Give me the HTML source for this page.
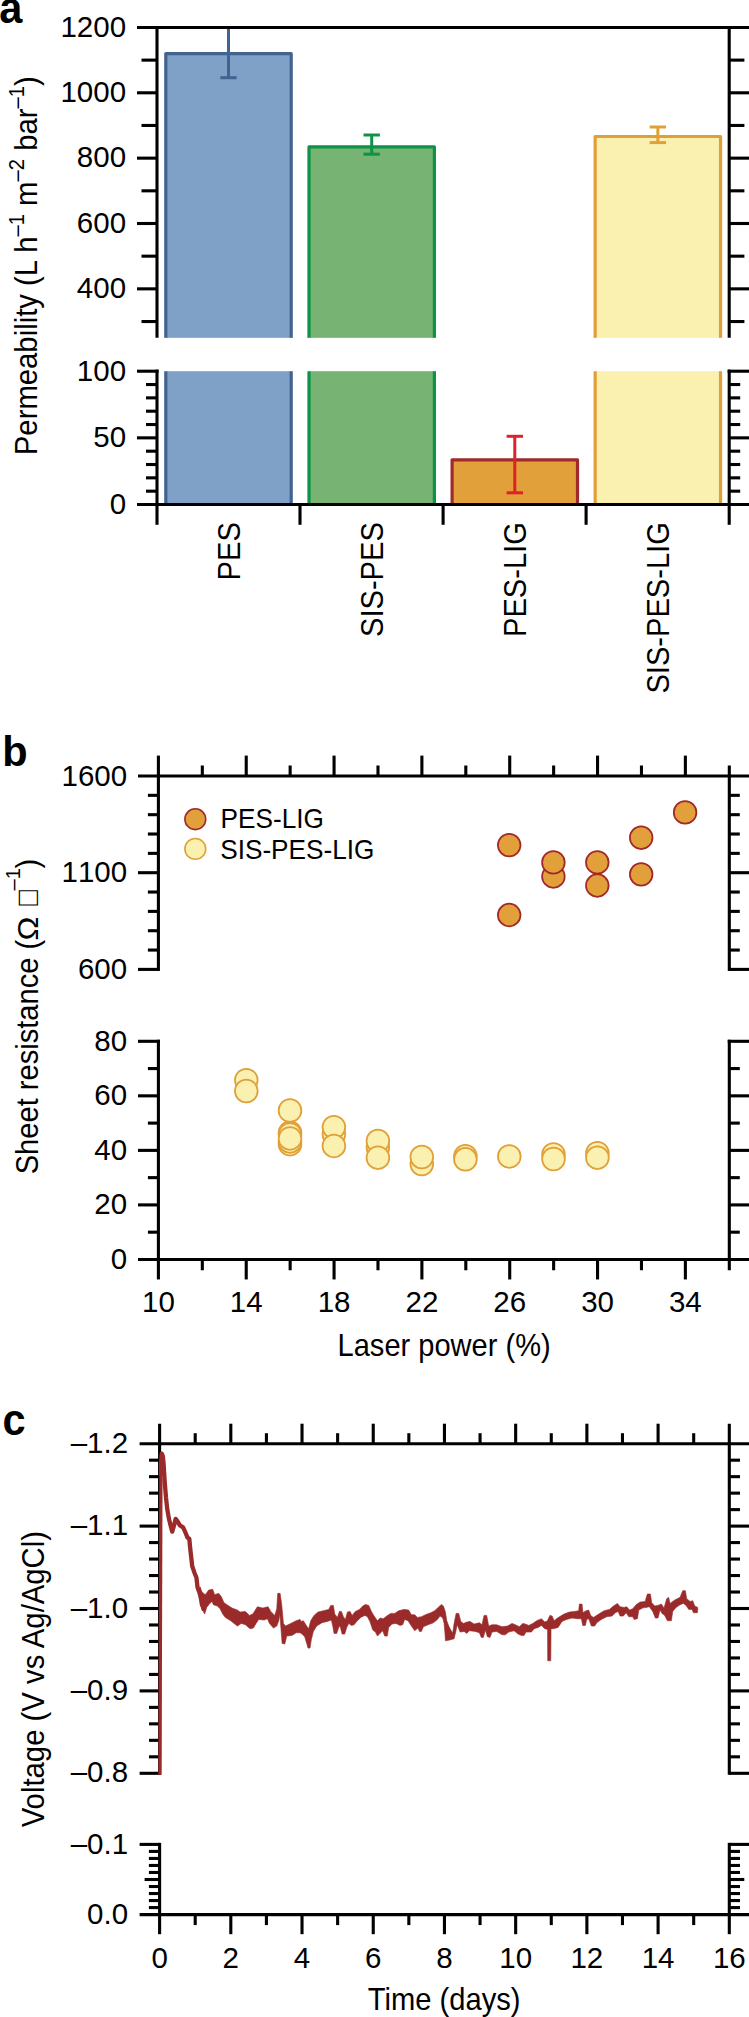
<!DOCTYPE html>
<html lang="en"><head><meta charset="utf-8"><title>Figure</title>
<style>html,body{margin:0;padding:0;background:#fff}svg{display:block}text{font-family:'Liberation Sans', sans-serif;fill:#000}.nk{font-kerning:none}</style>
</head><body>
<svg width="749" height="2017" viewBox="0 0 749 2017" role="img" aria-label="Figure with three panels a, b and c">
<rect width="749" height="2017" fill="#fff"/>
<g stroke-linejoin="round">
<rect x="165.8" y="53.6" width="125.4" height="450.9" fill="#7fa1c7" stroke="#40648f" stroke-width="3.2"/>
<rect x="309" y="146.8" width="125.4" height="357.7" fill="#77b373" stroke="#0c9347" stroke-width="3.2"/>
<rect x="452.1" y="459.8" width="125.4" height="44.7" fill="#e1a039" stroke="#9e2a2b" stroke-width="3.2"/>
<rect x="595.15" y="136.5" width="125.4" height="368" fill="#faf0b0" stroke="#e0a037" stroke-width="3.2"/>
</g>
<line x1="228.5" y1="27.45" x2="228.5" y2="77.7" stroke="#40648f" stroke-width="3"/>
<line x1="220.3" y1="77.7" x2="236.7" y2="77.7" stroke="#40648f" stroke-width="3"/>
<line x1="371.7" y1="135" x2="371.7" y2="154.2" stroke="#0c9347" stroke-width="3"/>
<line x1="363.5" y1="135" x2="379.9" y2="135" stroke="#0c9347" stroke-width="3"/>
<line x1="363.5" y1="154.2" x2="379.9" y2="154.2" stroke="#0c9347" stroke-width="3"/>
<line x1="514.8" y1="436.3" x2="514.8" y2="492.8" stroke="#de2228" stroke-width="3"/>
<line x1="506.6" y1="436.3" x2="523" y2="436.3" stroke="#de2228" stroke-width="3"/>
<line x1="506.6" y1="492.8" x2="523" y2="492.8" stroke="#de2228" stroke-width="3"/>
<line x1="657.85" y1="127" x2="657.85" y2="142.6" stroke="#e0a037" stroke-width="3"/>
<line x1="649.65" y1="127" x2="666.05" y2="127" stroke="#e0a037" stroke-width="3"/>
<line x1="649.65" y1="142.6" x2="666.05" y2="142.6" stroke="#e0a037" stroke-width="3"/>
<rect x="130" y="337.85" width="619" height="33.35" fill="#fff"/>
<line x1="137" y1="27.45" x2="749" y2="27.45" stroke="#000" stroke-width="3.1"/>
<line x1="157" y1="25.9" x2="157" y2="337.85" stroke="#000" stroke-width="3.1"/>
<line x1="729.2" y1="25.9" x2="729.2" y2="337.85" stroke="#000" stroke-width="3.1"/>
<line x1="137" y1="92.8" x2="157" y2="92.8" stroke="#000" stroke-width="3.1"/>
<line x1="729.2" y1="92.8" x2="749.2" y2="92.8" stroke="#000" stroke-width="3.1"/>
<line x1="137" y1="158.15" x2="157" y2="158.15" stroke="#000" stroke-width="3.1"/>
<line x1="729.2" y1="158.15" x2="749.2" y2="158.15" stroke="#000" stroke-width="3.1"/>
<line x1="137" y1="223.5" x2="157" y2="223.5" stroke="#000" stroke-width="3.1"/>
<line x1="729.2" y1="223.5" x2="749.2" y2="223.5" stroke="#000" stroke-width="3.1"/>
<line x1="137" y1="288.85" x2="157" y2="288.85" stroke="#000" stroke-width="3.1"/>
<line x1="729.2" y1="288.85" x2="749.2" y2="288.85" stroke="#000" stroke-width="3.1"/>
<line x1="141.5" y1="60.12" x2="157" y2="60.12" stroke="#000" stroke-width="3.1"/>
<line x1="729.2" y1="60.12" x2="744.4" y2="60.12" stroke="#000" stroke-width="3.1"/>
<line x1="141.5" y1="125.47" x2="157" y2="125.47" stroke="#000" stroke-width="3.1"/>
<line x1="729.2" y1="125.47" x2="744.4" y2="125.47" stroke="#000" stroke-width="3.1"/>
<line x1="141.5" y1="190.82" x2="157" y2="190.82" stroke="#000" stroke-width="3.1"/>
<line x1="729.2" y1="190.82" x2="744.4" y2="190.82" stroke="#000" stroke-width="3.1"/>
<line x1="141.5" y1="256.17" x2="157" y2="256.17" stroke="#000" stroke-width="3.1"/>
<line x1="729.2" y1="256.17" x2="744.4" y2="256.17" stroke="#000" stroke-width="3.1"/>
<line x1="141.5" y1="321.52" x2="157" y2="321.52" stroke="#000" stroke-width="3.1"/>
<line x1="729.2" y1="321.52" x2="744.4" y2="321.52" stroke="#000" stroke-width="3.1"/>
<line x1="157" y1="369.65" x2="157" y2="504.5" stroke="#000" stroke-width="3.1"/>
<line x1="729.2" y1="369.65" x2="729.2" y2="504.5" stroke="#000" stroke-width="3.1"/>
<line x1="137" y1="371.2" x2="158.55" y2="371.2" stroke="#000" stroke-width="3.1"/>
<line x1="727.65" y1="371.2" x2="749" y2="371.2" stroke="#000" stroke-width="3.1"/>
<line x1="137" y1="437.85" x2="157" y2="437.85" stroke="#000" stroke-width="3.1"/>
<line x1="729.2" y1="437.85" x2="749" y2="437.85" stroke="#000" stroke-width="3.1"/>
<line x1="146" y1="491.17" x2="157" y2="491.17" stroke="#000" stroke-width="3.1"/>
<line x1="729.2" y1="491.17" x2="740.2" y2="491.17" stroke="#000" stroke-width="3.1"/>
<line x1="146" y1="477.84" x2="157" y2="477.84" stroke="#000" stroke-width="3.1"/>
<line x1="729.2" y1="477.84" x2="740.2" y2="477.84" stroke="#000" stroke-width="3.1"/>
<line x1="146" y1="464.51" x2="157" y2="464.51" stroke="#000" stroke-width="3.1"/>
<line x1="729.2" y1="464.51" x2="740.2" y2="464.51" stroke="#000" stroke-width="3.1"/>
<line x1="146" y1="451.18" x2="157" y2="451.18" stroke="#000" stroke-width="3.1"/>
<line x1="729.2" y1="451.18" x2="740.2" y2="451.18" stroke="#000" stroke-width="3.1"/>
<line x1="146" y1="424.52" x2="157" y2="424.52" stroke="#000" stroke-width="3.1"/>
<line x1="729.2" y1="424.52" x2="740.2" y2="424.52" stroke="#000" stroke-width="3.1"/>
<line x1="146" y1="411.19" x2="157" y2="411.19" stroke="#000" stroke-width="3.1"/>
<line x1="729.2" y1="411.19" x2="740.2" y2="411.19" stroke="#000" stroke-width="3.1"/>
<line x1="146" y1="397.86" x2="157" y2="397.86" stroke="#000" stroke-width="3.1"/>
<line x1="729.2" y1="397.86" x2="740.2" y2="397.86" stroke="#000" stroke-width="3.1"/>
<line x1="146" y1="384.53" x2="157" y2="384.53" stroke="#000" stroke-width="3.1"/>
<line x1="729.2" y1="384.53" x2="740.2" y2="384.53" stroke="#000" stroke-width="3.1"/>
<line x1="137" y1="504.5" x2="749" y2="504.5" stroke="#000" stroke-width="3.1"/>
<line x1="157" y1="504.5" x2="157" y2="524.8" stroke="#000" stroke-width="3.1"/>
<line x1="300" y1="504.5" x2="300" y2="524.8" stroke="#000" stroke-width="3.1"/>
<line x1="443.1" y1="504.5" x2="443.1" y2="524.8" stroke="#000" stroke-width="3.1"/>
<line x1="586.1" y1="504.5" x2="586.1" y2="524.8" stroke="#000" stroke-width="3.1"/>
<line x1="729.2" y1="504.5" x2="729.2" y2="524.8" stroke="#000" stroke-width="3.1"/>
<text x="126.1" y="36.75" font-size="29.5" text-anchor="end" class="nk">1200</text>
<text x="126.1" y="102.1" font-size="29.5" text-anchor="end" class="nk">1000</text>
<text x="126.1" y="167.45" font-size="29.5" text-anchor="end" class="nk">800</text>
<text x="126.1" y="232.8" font-size="29.5" text-anchor="end" class="nk">600</text>
<text x="126.1" y="298.15" font-size="29.5" text-anchor="end" class="nk">400</text>
<text x="126.1" y="380.5" font-size="29.5" text-anchor="end" class="nk">100</text>
<text x="126.1" y="447.15" font-size="29.5" text-anchor="end" class="nk">50</text>
<text x="126.1" y="513.8" font-size="29.5" text-anchor="end" class="nk">0</text>
<text transform="translate(239.5 522.2) rotate(-90) scale(0.9479 1)" font-size="30.7" text-anchor="end">PES</text>
<text transform="translate(382.7 522.2) rotate(-90) scale(0.9479 1)" font-size="30.7" text-anchor="end">SIS-PES</text>
<text transform="translate(525.8 522.2) rotate(-90) scale(0.9479 1)" font-size="30.7" text-anchor="end">PES-LIG</text>
<text transform="translate(668.85 522.2) rotate(-90) scale(0.9479 1)" font-size="30.7" text-anchor="end">SIS-PES-LIG</text>
<text transform="translate(36.85 455.2) rotate(-90) scale(0.9479 1)" font-size="30.91" text-anchor="start">Permeability (L h<tspan font-size="21.3" dy="-12.6">–1</tspan><tspan dy="12.6"> m</tspan><tspan font-size="21.3" dy="-12.6">–2</tspan><tspan dy="12.6"> bar</tspan><tspan font-size="21.3" dy="-12.6">–1</tspan><tspan dy="12.6">)</tspan></text>
<text transform="translate(-0.7 23) scale(0.9302 1)" font-size="44.61" text-anchor="start" font-weight="bold">a</text>
<line x1="138" y1="776" x2="749" y2="776" stroke="#000" stroke-width="3.1"/>
<line x1="158.4" y1="755.6" x2="158.4" y2="970.95" stroke="#000" stroke-width="3.1"/>
<line x1="729.3" y1="765.5" x2="729.3" y2="970.95" stroke="#000" stroke-width="3.1"/>
<line x1="147.9" y1="795.34" x2="158.4" y2="795.34" stroke="#000" stroke-width="3.1"/>
<line x1="729.3" y1="795.34" x2="739.8" y2="795.34" stroke="#000" stroke-width="3.1"/>
<line x1="147.9" y1="814.68" x2="158.4" y2="814.68" stroke="#000" stroke-width="3.1"/>
<line x1="729.3" y1="814.68" x2="739.8" y2="814.68" stroke="#000" stroke-width="3.1"/>
<line x1="147.9" y1="834.02" x2="158.4" y2="834.02" stroke="#000" stroke-width="3.1"/>
<line x1="729.3" y1="834.02" x2="739.8" y2="834.02" stroke="#000" stroke-width="3.1"/>
<line x1="147.9" y1="853.36" x2="158.4" y2="853.36" stroke="#000" stroke-width="3.1"/>
<line x1="729.3" y1="853.36" x2="739.8" y2="853.36" stroke="#000" stroke-width="3.1"/>
<line x1="138" y1="872.7" x2="158.4" y2="872.7" stroke="#000" stroke-width="3.1"/>
<line x1="729.3" y1="872.7" x2="749" y2="872.7" stroke="#000" stroke-width="3.1"/>
<line x1="147.9" y1="892.04" x2="158.4" y2="892.04" stroke="#000" stroke-width="3.1"/>
<line x1="729.3" y1="892.04" x2="739.8" y2="892.04" stroke="#000" stroke-width="3.1"/>
<line x1="147.9" y1="911.38" x2="158.4" y2="911.38" stroke="#000" stroke-width="3.1"/>
<line x1="729.3" y1="911.38" x2="739.8" y2="911.38" stroke="#000" stroke-width="3.1"/>
<line x1="147.9" y1="930.72" x2="158.4" y2="930.72" stroke="#000" stroke-width="3.1"/>
<line x1="729.3" y1="930.72" x2="739.8" y2="930.72" stroke="#000" stroke-width="3.1"/>
<line x1="147.9" y1="950.06" x2="158.4" y2="950.06" stroke="#000" stroke-width="3.1"/>
<line x1="729.3" y1="950.06" x2="739.8" y2="950.06" stroke="#000" stroke-width="3.1"/>
<line x1="138" y1="969.4" x2="158.4" y2="969.4" stroke="#000" stroke-width="3.1"/>
<line x1="729.3" y1="969.4" x2="749" y2="969.4" stroke="#000" stroke-width="3.1"/>
<line x1="202.32" y1="765.5" x2="202.32" y2="776" stroke="#000" stroke-width="3.1"/>
<line x1="246.23" y1="755.6" x2="246.23" y2="776" stroke="#000" stroke-width="3.1"/>
<line x1="290.15" y1="765.5" x2="290.15" y2="776" stroke="#000" stroke-width="3.1"/>
<line x1="334.06" y1="755.6" x2="334.06" y2="776" stroke="#000" stroke-width="3.1"/>
<line x1="377.98" y1="765.5" x2="377.98" y2="776" stroke="#000" stroke-width="3.1"/>
<line x1="421.89" y1="755.6" x2="421.89" y2="776" stroke="#000" stroke-width="3.1"/>
<line x1="465.81" y1="765.5" x2="465.81" y2="776" stroke="#000" stroke-width="3.1"/>
<line x1="509.72" y1="755.6" x2="509.72" y2="776" stroke="#000" stroke-width="3.1"/>
<line x1="553.64" y1="765.5" x2="553.64" y2="776" stroke="#000" stroke-width="3.1"/>
<line x1="597.55" y1="755.6" x2="597.55" y2="776" stroke="#000" stroke-width="3.1"/>
<line x1="641.47" y1="765.5" x2="641.47" y2="776" stroke="#000" stroke-width="3.1"/>
<line x1="685.38" y1="755.6" x2="685.38" y2="776" stroke="#000" stroke-width="3.1"/>
<line x1="158.4" y1="1039.75" x2="158.4" y2="1259.45" stroke="#000" stroke-width="3.1"/>
<line x1="729.3" y1="1039.75" x2="729.3" y2="1259.45" stroke="#000" stroke-width="3.1"/>
<line x1="138" y1="1259.45" x2="749" y2="1259.45" stroke="#000" stroke-width="3.1"/>
<line x1="138" y1="1041.3" x2="159.95" y2="1041.3" stroke="#000" stroke-width="3.1"/>
<line x1="727.75" y1="1041.3" x2="749" y2="1041.3" stroke="#000" stroke-width="3.1"/>
<line x1="147.9" y1="1068.57" x2="158.4" y2="1068.57" stroke="#000" stroke-width="3.1"/>
<line x1="729.3" y1="1068.57" x2="739.8" y2="1068.57" stroke="#000" stroke-width="3.1"/>
<line x1="138" y1="1095.84" x2="158.4" y2="1095.84" stroke="#000" stroke-width="3.1"/>
<line x1="729.3" y1="1095.84" x2="749" y2="1095.84" stroke="#000" stroke-width="3.1"/>
<line x1="147.9" y1="1123.11" x2="158.4" y2="1123.11" stroke="#000" stroke-width="3.1"/>
<line x1="729.3" y1="1123.11" x2="739.8" y2="1123.11" stroke="#000" stroke-width="3.1"/>
<line x1="138" y1="1150.38" x2="158.4" y2="1150.38" stroke="#000" stroke-width="3.1"/>
<line x1="729.3" y1="1150.38" x2="749" y2="1150.38" stroke="#000" stroke-width="3.1"/>
<line x1="147.9" y1="1177.64" x2="158.4" y2="1177.64" stroke="#000" stroke-width="3.1"/>
<line x1="729.3" y1="1177.64" x2="739.8" y2="1177.64" stroke="#000" stroke-width="3.1"/>
<line x1="138" y1="1204.91" x2="158.4" y2="1204.91" stroke="#000" stroke-width="3.1"/>
<line x1="729.3" y1="1204.91" x2="749" y2="1204.91" stroke="#000" stroke-width="3.1"/>
<line x1="147.9" y1="1232.18" x2="158.4" y2="1232.18" stroke="#000" stroke-width="3.1"/>
<line x1="729.3" y1="1232.18" x2="739.8" y2="1232.18" stroke="#000" stroke-width="3.1"/>
<line x1="158.4" y1="1259.45" x2="158.4" y2="1279.45" stroke="#000" stroke-width="3.1"/>
<line x1="202.32" y1="1259.45" x2="202.32" y2="1270.25" stroke="#000" stroke-width="3.1"/>
<line x1="246.23" y1="1259.45" x2="246.23" y2="1279.45" stroke="#000" stroke-width="3.1"/>
<line x1="290.15" y1="1259.45" x2="290.15" y2="1270.25" stroke="#000" stroke-width="3.1"/>
<line x1="334.06" y1="1259.45" x2="334.06" y2="1279.45" stroke="#000" stroke-width="3.1"/>
<line x1="377.98" y1="1259.45" x2="377.98" y2="1270.25" stroke="#000" stroke-width="3.1"/>
<line x1="421.89" y1="1259.45" x2="421.89" y2="1279.45" stroke="#000" stroke-width="3.1"/>
<line x1="465.81" y1="1259.45" x2="465.81" y2="1270.25" stroke="#000" stroke-width="3.1"/>
<line x1="509.72" y1="1259.45" x2="509.72" y2="1279.45" stroke="#000" stroke-width="3.1"/>
<line x1="553.64" y1="1259.45" x2="553.64" y2="1270.25" stroke="#000" stroke-width="3.1"/>
<line x1="597.55" y1="1259.45" x2="597.55" y2="1279.45" stroke="#000" stroke-width="3.1"/>
<line x1="641.47" y1="1259.45" x2="641.47" y2="1270.25" stroke="#000" stroke-width="3.1"/>
<line x1="685.38" y1="1259.45" x2="685.38" y2="1279.45" stroke="#000" stroke-width="3.1"/>
<line x1="729.3" y1="1259.45" x2="729.3" y2="1270.25" stroke="#000" stroke-width="3.1"/>
<text x="127.2" y="785.5" font-size="29.5" text-anchor="end" class="nk">1600</text>
<text x="127.2" y="882.2" font-size="29.5" text-anchor="end" class="nk">1100</text>
<text x="127.2" y="978.9" font-size="29.5" text-anchor="end" class="nk">600</text>
<text x="127.2" y="1050.8" font-size="29.5" text-anchor="end" class="nk">80</text>
<text x="127.2" y="1105.34" font-size="29.5" text-anchor="end" class="nk">60</text>
<text x="127.2" y="1159.88" font-size="29.5" text-anchor="end" class="nk">40</text>
<text x="127.2" y="1214.41" font-size="29.5" text-anchor="end" class="nk">20</text>
<text x="127.2" y="1268.95" font-size="29.5" text-anchor="end" class="nk">0</text>
<text x="158.4" y="1312.4" font-size="29.5" text-anchor="middle" class="nk">10</text>
<text x="246.23" y="1312.4" font-size="29.5" text-anchor="middle" class="nk">14</text>
<text x="334.06" y="1312.4" font-size="29.5" text-anchor="middle" class="nk">18</text>
<text x="421.89" y="1312.4" font-size="29.5" text-anchor="middle" class="nk">22</text>
<text x="509.72" y="1312.4" font-size="29.5" text-anchor="middle" class="nk">26</text>
<text x="597.55" y="1312.4" font-size="29.5" text-anchor="middle" class="nk">30</text>
<text x="685.38" y="1312.4" font-size="29.5" text-anchor="middle" class="nk">34</text>
<text transform="translate(444.1 1355.6) scale(0.9479 1)" font-size="30.65" text-anchor="middle">Laser power (%)</text>
<g transform="translate(38 1174.3) rotate(-90)">
<text transform="translate(0 0) scale(0.9479 1)" font-size="30.7" text-anchor="start">Sheet resistance (</text>
<text transform="translate(233.9 0) scale(1.07 1)" font-size="30" font-family="'Liberation Serif', 'DejaVu Serif', serif">Ω</text>
<text transform="translate(268.9 0) scale(0.79 1)" font-size="32.5">□</text>
<text x="283.9" y="-17.7" font-size="20.2" text-anchor="start" class="nk">–1</text>
<text transform="translate(305.8 0) scale(0.9479 1)" font-size="30.7" text-anchor="start">)</text>
</g>
<circle cx="195.3" cy="819.2" r="10.4" fill="#e1a039" stroke="#a3282a" stroke-width="1.6"/>
<circle cx="195.3" cy="848.9" r="10.4" fill="#faf0b0" stroke="#e0a037" stroke-width="1.6"/>
<text transform="translate(220.6 827.9) scale(0.9479 1)" font-size="27.64" text-anchor="start">PES-LIG</text>
<text transform="translate(220.2 858.9) scale(0.9479 1)" font-size="27.64" text-anchor="start">SIS-PES-LIG</text>
<circle cx="509.2" cy="915" r="11.3" fill="#e1a039" stroke="#a3282a" stroke-width="1.75"/>
<circle cx="509.2" cy="845.1" r="11.3" fill="#e1a039" stroke="#a3282a" stroke-width="1.75"/>
<circle cx="553.4" cy="876.5" r="11.3" fill="#e1a039" stroke="#a3282a" stroke-width="1.75"/>
<circle cx="553.4" cy="862.4" r="11.3" fill="#e1a039" stroke="#a3282a" stroke-width="1.75"/>
<circle cx="597.3" cy="885.5" r="11.3" fill="#e1a039" stroke="#a3282a" stroke-width="1.75"/>
<circle cx="597.3" cy="862.4" r="11.3" fill="#e1a039" stroke="#a3282a" stroke-width="1.75"/>
<circle cx="641.2" cy="874.3" r="11.3" fill="#e1a039" stroke="#a3282a" stroke-width="1.75"/>
<circle cx="641.2" cy="837.7" r="11.3" fill="#e1a039" stroke="#a3282a" stroke-width="1.75"/>
<circle cx="685.1" cy="812.4" r="11.3" fill="#e1a039" stroke="#a3282a" stroke-width="1.75"/>
<circle cx="246.3" cy="1080.1" r="11.35" fill="#faf0b0" stroke="#e0a037" stroke-width="1.75"/>
<circle cx="246.3" cy="1091" r="11.35" fill="#faf0b0" stroke="#e0a037" stroke-width="1.75"/>
<circle cx="290" cy="1132.7" r="11.35" fill="#faf0b0" stroke="#e0a037" stroke-width="1.75"/>
<circle cx="290" cy="1134.4" r="11.35" fill="#faf0b0" stroke="#e0a037" stroke-width="1.75"/>
<circle cx="290" cy="1144.2" r="11.35" fill="#faf0b0" stroke="#e0a037" stroke-width="1.75"/>
<circle cx="290" cy="1141.4" r="11.35" fill="#faf0b0" stroke="#e0a037" stroke-width="1.75"/>
<circle cx="290" cy="1110.5" r="11.35" fill="#faf0b0" stroke="#e0a037" stroke-width="1.75"/>
<circle cx="290" cy="1138.4" r="11.35" fill="#faf0b0" stroke="#e0a037" stroke-width="1.75"/>
<circle cx="333.9" cy="1134.3" r="11.35" fill="#faf0b0" stroke="#e0a037" stroke-width="1.75"/>
<circle cx="333.9" cy="1127.1" r="11.35" fill="#faf0b0" stroke="#e0a037" stroke-width="1.75"/>
<circle cx="333.9" cy="1145.9" r="11.35" fill="#faf0b0" stroke="#e0a037" stroke-width="1.75"/>
<circle cx="377.9" cy="1147.3" r="11.35" fill="#faf0b0" stroke="#e0a037" stroke-width="1.75"/>
<circle cx="377.9" cy="1141" r="11.35" fill="#faf0b0" stroke="#e0a037" stroke-width="1.75"/>
<circle cx="377.9" cy="1157.7" r="11.35" fill="#faf0b0" stroke="#e0a037" stroke-width="1.75"/>
<circle cx="421.8" cy="1164.1" r="11.35" fill="#faf0b0" stroke="#e0a037" stroke-width="1.75"/>
<circle cx="421.8" cy="1157" r="11.35" fill="#faf0b0" stroke="#e0a037" stroke-width="1.75"/>
<circle cx="465.4" cy="1156.1" r="11.35" fill="#faf0b0" stroke="#e0a037" stroke-width="1.75"/>
<circle cx="465.4" cy="1159.3" r="11.35" fill="#faf0b0" stroke="#e0a037" stroke-width="1.75"/>
<circle cx="509.3" cy="1156.4" r="11.35" fill="#faf0b0" stroke="#e0a037" stroke-width="1.75"/>
<circle cx="553.5" cy="1154.5" r="11.35" fill="#faf0b0" stroke="#e0a037" stroke-width="1.75"/>
<circle cx="553.5" cy="1159" r="11.35" fill="#faf0b0" stroke="#e0a037" stroke-width="1.75"/>
<circle cx="597.4" cy="1153.2" r="11.35" fill="#faf0b0" stroke="#e0a037" stroke-width="1.75"/>
<circle cx="597.4" cy="1157.7" r="11.35" fill="#faf0b0" stroke="#e0a037" stroke-width="1.75"/>
<text transform="translate(2.2 765.7) scale(0.9804 1)" font-size="42.33" text-anchor="start" font-weight="bold">b</text>
<line x1="139.6" y1="1443.7" x2="749" y2="1443.7" stroke="#000" stroke-width="3.1"/>
<path d="M159.6 1423.7 V1774.85" fill="none" stroke="#000" stroke-width="3.1"/>
<line x1="729.3" y1="1423.7" x2="729.3" y2="1774.85" stroke="#000" stroke-width="3.1"/>
<line x1="149" y1="1460.18" x2="159.6" y2="1460.18" stroke="#000" stroke-width="3.1"/>
<line x1="729.3" y1="1460.18" x2="740" y2="1460.18" stroke="#000" stroke-width="3.1"/>
<line x1="149" y1="1476.66" x2="159.6" y2="1476.66" stroke="#000" stroke-width="3.1"/>
<line x1="729.3" y1="1476.66" x2="740" y2="1476.66" stroke="#000" stroke-width="3.1"/>
<line x1="149" y1="1493.14" x2="159.6" y2="1493.14" stroke="#000" stroke-width="3.1"/>
<line x1="729.3" y1="1493.14" x2="740" y2="1493.14" stroke="#000" stroke-width="3.1"/>
<line x1="149" y1="1509.62" x2="159.6" y2="1509.62" stroke="#000" stroke-width="3.1"/>
<line x1="729.3" y1="1509.62" x2="740" y2="1509.62" stroke="#000" stroke-width="3.1"/>
<line x1="139.6" y1="1526.1" x2="159.6" y2="1526.1" stroke="#000" stroke-width="3.1"/>
<line x1="729.3" y1="1526.1" x2="749" y2="1526.1" stroke="#000" stroke-width="3.1"/>
<line x1="149" y1="1542.58" x2="159.6" y2="1542.58" stroke="#000" stroke-width="3.1"/>
<line x1="729.3" y1="1542.58" x2="740" y2="1542.58" stroke="#000" stroke-width="3.1"/>
<line x1="149" y1="1559.06" x2="159.6" y2="1559.06" stroke="#000" stroke-width="3.1"/>
<line x1="729.3" y1="1559.06" x2="740" y2="1559.06" stroke="#000" stroke-width="3.1"/>
<line x1="149" y1="1575.54" x2="159.6" y2="1575.54" stroke="#000" stroke-width="3.1"/>
<line x1="729.3" y1="1575.54" x2="740" y2="1575.54" stroke="#000" stroke-width="3.1"/>
<line x1="149" y1="1592.02" x2="159.6" y2="1592.02" stroke="#000" stroke-width="3.1"/>
<line x1="729.3" y1="1592.02" x2="740" y2="1592.02" stroke="#000" stroke-width="3.1"/>
<line x1="139.6" y1="1608.5" x2="159.6" y2="1608.5" stroke="#000" stroke-width="3.1"/>
<line x1="729.3" y1="1608.5" x2="749" y2="1608.5" stroke="#000" stroke-width="3.1"/>
<line x1="149" y1="1624.98" x2="159.6" y2="1624.98" stroke="#000" stroke-width="3.1"/>
<line x1="729.3" y1="1624.98" x2="740" y2="1624.98" stroke="#000" stroke-width="3.1"/>
<line x1="149" y1="1641.46" x2="159.6" y2="1641.46" stroke="#000" stroke-width="3.1"/>
<line x1="729.3" y1="1641.46" x2="740" y2="1641.46" stroke="#000" stroke-width="3.1"/>
<line x1="149" y1="1657.94" x2="159.6" y2="1657.94" stroke="#000" stroke-width="3.1"/>
<line x1="729.3" y1="1657.94" x2="740" y2="1657.94" stroke="#000" stroke-width="3.1"/>
<line x1="149" y1="1674.42" x2="159.6" y2="1674.42" stroke="#000" stroke-width="3.1"/>
<line x1="729.3" y1="1674.42" x2="740" y2="1674.42" stroke="#000" stroke-width="3.1"/>
<line x1="139.6" y1="1690.9" x2="159.6" y2="1690.9" stroke="#000" stroke-width="3.1"/>
<line x1="729.3" y1="1690.9" x2="749" y2="1690.9" stroke="#000" stroke-width="3.1"/>
<line x1="149" y1="1707.38" x2="159.6" y2="1707.38" stroke="#000" stroke-width="3.1"/>
<line x1="729.3" y1="1707.38" x2="740" y2="1707.38" stroke="#000" stroke-width="3.1"/>
<line x1="149" y1="1723.86" x2="159.6" y2="1723.86" stroke="#000" stroke-width="3.1"/>
<line x1="729.3" y1="1723.86" x2="740" y2="1723.86" stroke="#000" stroke-width="3.1"/>
<line x1="149" y1="1740.34" x2="159.6" y2="1740.34" stroke="#000" stroke-width="3.1"/>
<line x1="729.3" y1="1740.34" x2="740" y2="1740.34" stroke="#000" stroke-width="3.1"/>
<line x1="149" y1="1756.82" x2="159.6" y2="1756.82" stroke="#000" stroke-width="3.1"/>
<line x1="729.3" y1="1756.82" x2="740" y2="1756.82" stroke="#000" stroke-width="3.1"/>
<line x1="139.6" y1="1773.3" x2="159.6" y2="1773.3" stroke="#000" stroke-width="3.1"/>
<line x1="729.3" y1="1773.3" x2="749" y2="1773.3" stroke="#000" stroke-width="3.1"/>
<line x1="195.21" y1="1433.2" x2="195.21" y2="1443.7" stroke="#000" stroke-width="3.1"/>
<line x1="230.81" y1="1423.7" x2="230.81" y2="1443.7" stroke="#000" stroke-width="3.1"/>
<line x1="266.42" y1="1433.2" x2="266.42" y2="1443.7" stroke="#000" stroke-width="3.1"/>
<line x1="302.02" y1="1423.7" x2="302.02" y2="1443.7" stroke="#000" stroke-width="3.1"/>
<line x1="337.63" y1="1433.2" x2="337.63" y2="1443.7" stroke="#000" stroke-width="3.1"/>
<line x1="373.24" y1="1423.7" x2="373.24" y2="1443.7" stroke="#000" stroke-width="3.1"/>
<line x1="408.84" y1="1433.2" x2="408.84" y2="1443.7" stroke="#000" stroke-width="3.1"/>
<line x1="444.45" y1="1423.7" x2="444.45" y2="1443.7" stroke="#000" stroke-width="3.1"/>
<line x1="480.06" y1="1433.2" x2="480.06" y2="1443.7" stroke="#000" stroke-width="3.1"/>
<line x1="515.66" y1="1423.7" x2="515.66" y2="1443.7" stroke="#000" stroke-width="3.1"/>
<line x1="551.27" y1="1433.2" x2="551.27" y2="1443.7" stroke="#000" stroke-width="3.1"/>
<line x1="586.88" y1="1423.7" x2="586.88" y2="1443.7" stroke="#000" stroke-width="3.1"/>
<line x1="622.48" y1="1433.2" x2="622.48" y2="1443.7" stroke="#000" stroke-width="3.1"/>
<line x1="658.09" y1="1423.7" x2="658.09" y2="1443.7" stroke="#000" stroke-width="3.1"/>
<line x1="693.69" y1="1433.2" x2="693.69" y2="1443.7" stroke="#000" stroke-width="3.1"/>
<g fill="#9b2a2b" stroke="#9b2a2b" stroke-linejoin="round" stroke-linecap="butt">
<line x1="159.95" y1="1774.85" x2="160.95" y2="1466" stroke-width="3.3"/>
<polyline fill="none" stroke-width="4.3" points="160.89,1475.25 161.11,1461.36 161.75,1453.56 162.82,1456.02 163.56,1463.5 164.1,1472.04 164.95,1484.86 166.02,1497.68 167.3,1509.43 169.01,1519.04 170.83,1526.52 172.22,1531.64 174.03,1525.45 175.63,1518.83 177.56,1521.39 179.91,1525.45 183.11,1527.37 185.25,1532.07 187.38,1537.41 189.31,1538.8 190.05,1546.81 191.12,1556.42 192.19,1566.03 194.33,1572.44 196.46,1577.78 197.53,1587.4 199.13,1591.67 200.2,1595.41 201.48,1601.28 202.87,1606.62 204.05,1610.68"/>
<polygon stroke-width="0.6" points="200,1586.69 202,1592.03 205.34,1594.7 208.68,1590.03 212.68,1589.36 214.69,1594.7 218.69,1593.36 221.36,1596.7 224.03,1602.71 228.04,1605.38 232.04,1608.05 237.38,1610.05 240.05,1612.06 245.39,1611.39 249.4,1615.39 252.74,1614.06 257.41,1606.72 262.75,1608.05 268.09,1606.72 270.76,1611.39 274.77,1615.39 276.77,1608.72 277.7,1593.36 280.11,1593.36 281.71,1604.71 283.44,1623.4 285.45,1626.07 290.79,1623.4 296.13,1620.73 300.01,1619.4 301.35,1621.4 303.35,1620.73 306.69,1626.07 308.69,1628.74 310.69,1620.73 314.03,1615.39 318.04,1612.06 323.38,1610.72 328.72,1609.39 330.72,1605.38 333.39,1605.38 334.73,1614.06 337.4,1617.4 339.4,1611.39 341.4,1611.39 343.4,1616.73 345.41,1619.4 347.41,1612.06 350.08,1611.39 352.08,1615.39 355.42,1611.39 359.43,1609.39 362.76,1606.05 365.43,1604.45 368.77,1605.38 371.44,1611.39 374.11,1616.06 377.45,1620.73 380.12,1618.06 383.34,1618.73 386.68,1616.06 390.68,1613.39 394.69,1613.39 398.69,1610.72 404.03,1609.39 408.7,1610.05 411.38,1614.73 414.71,1614.73 417.38,1617.4 421.39,1616.73 425.39,1614.73 430.73,1612.72 434.74,1610.72 438.08,1607.38 441.42,1604.45 443.42,1606.05 445.42,1612.06 446.76,1620.73 448.76,1626.07 450.76,1630.08 452.76,1632.75 454.1,1623.4 456.1,1613.39 458.77,1613.39 460.77,1621.4 463.44,1623.4 466.78,1622.07 470.12,1621.4 474.01,1624.07 479.35,1622.74 482.02,1624.74 484.02,1615.39 486.69,1615.39 488.69,1626.07 492.03,1624.74 496.7,1624.74 502.04,1626.74 507.38,1626.07 512.06,1623.4 515.39,1624.74 519.4,1626.74 522.74,1623.4 525.41,1624.07 528.74,1625.41 532.75,1623.4 536.76,1620.73 541.43,1618.73 544.77,1622.07 547.44,1620.73 549.84,1615.39 552.11,1616.06 554.11,1620.73 557.45,1618.06 564.01,1614.06 569.35,1612.06 574.69,1611.39 578.69,1610.72 579.36,1604.05 582.03,1604.05 582.96,1612.72 586.03,1610.72 588.7,1610.05 590.71,1615.39 593.38,1617.4 598.72,1614.06 604.06,1610.72 609.4,1609.39 613.4,1606.05 617.41,1603.38 620.08,1606.72 624.09,1607.38 626.76,1606.72 629.43,1610.05 632.76,1608.72 636.1,1604.71 640.11,1602.04 645.45,1601.38 645.34,1600.71 647.34,1594.03 650.41,1594.03 651.75,1602.71 654.69,1606.05 658.02,1605.38 661.36,1604.05 664.03,1608.05 666.7,1598.7 668.7,1597.37 670.04,1603.38 674.71,1600.04 680.05,1597.37 682.72,1590.69 685.39,1590.69 686.73,1598.7 690.07,1601.38 692.74,1600.71 694.74,1606.05 697.68,1607.38 697.81,1608.05 697.41,1612.72 693.4,1612.72 692.07,1609.39 688.73,1609.39 686.06,1605.38 683.39,1603.38 680.05,1604.71 676.05,1607.38 672.71,1611.39 671.38,1620.73 667.37,1620.73 664.7,1615.39 662.03,1613.39 660.03,1610.05 658.02,1618.06 655.35,1618.06 652.68,1611.39 649.35,1606.72 645.34,1607.38 646.78,1606.72 642.78,1608.05 638.77,1610.05 637.44,1618.73 634.1,1619.4 632.76,1616.73 628.76,1616.73 626.09,1612.72 623.42,1616.06 620.08,1616.06 618.08,1611.39 615.41,1612.72 612.07,1616.06 606.73,1616.73 601.39,1619.4 596.72,1622.74 594.71,1626.07 591.38,1626.07 588.7,1618.73 586.7,1619.4 585.37,1625.41 582.7,1625.41 581.36,1618.73 577.36,1618.73 572.02,1618.06 566.68,1619.4 562,1621.4 558.12,1627.41 553.44,1628.74 551.04,1628.74 550.77,1660.79 547.7,1660.79 547.57,1629.41 544.77,1628.74 541.43,1625.41 538.09,1627.41 534.09,1628.74 531.42,1632.08 526.07,1632.08 524.07,1635.42 521.4,1635.42 518.06,1634.09 514.06,1630.75 508.72,1632.08 505.38,1634.75 502.04,1634.75 496.7,1631.42 492.03,1632.08 490.03,1637.42 487.36,1636.76 485.35,1630.08 483.35,1637.42 481.35,1637.42 479.35,1632.75 475.34,1631.42 469.45,1630.75 466.78,1633.42 464.11,1631.42 460.11,1632.08 458.77,1628.74 457.17,1624.74 455.83,1631.42 454.1,1638.76 449.43,1640.09 445.42,1640.76 445.02,1634.09 444.09,1623.4 442.75,1618.06 440.08,1616.06 437.41,1619.4 433.4,1622.74 428.06,1624.74 423.39,1626.74 421.39,1631.42 419.39,1631.42 418.05,1628.08 414.71,1630.75 411.38,1626.07 408.04,1620.73 404.7,1619.4 402.7,1624.74 400.03,1625.41 396.02,1623.4 392.02,1624.07 388.68,1627.41 387.34,1636.09 384.67,1636.09 382.67,1630.75 379.45,1634.09 377.45,1636.09 375.45,1632.08 372.78,1630.08 370.11,1622.07 367.44,1616.73 364.77,1615.39 360.76,1617.4 356.76,1621.4 354.09,1624.74 351.42,1625.41 348.74,1623.4 346.74,1627.41 344.74,1634.09 342.07,1634.09 340.07,1626.07 338.73,1627.41 336.73,1633.42 334.06,1633.42 332.72,1626.07 331.39,1620.07 327.38,1621.4 322.04,1622.74 316.7,1626.07 313.36,1631.42 311.36,1639.43 310.03,1648.1 308.02,1648.1 306.69,1643.43 304.69,1636.76 302.02,1634.09 300.01,1632.75 296.13,1632.75 292.12,1635.42 286.78,1636.09 284.78,1644.1 282.11,1643.43 280.77,1626.07 279.84,1614.06 278.77,1620.73 276.77,1626.07 273.43,1628.08 269.43,1623.4 267.42,1618.73 264.09,1620.07 258.74,1619.4 256.07,1623.4 253.4,1628.08 250.07,1628.74 245.39,1624.74 241.39,1623.4 237.38,1626.07 234.71,1624.07 230.71,1620.73 225.37,1617.4 222.7,1614.06 220.03,1608.72 217.36,1606.05 213.35,1604.71 212.02,1601.38 209.35,1604.05 206.68,1607.38 204.67,1614.06 202.67,1610.05 200,1604.71"/>
</g>
<line x1="159.6" y1="1842.85" x2="159.6" y2="1914.6" stroke="#000" stroke-width="3.1"/>
<line x1="729.3" y1="1842.85" x2="729.3" y2="1914.6" stroke="#000" stroke-width="3.1"/>
<line x1="139.6" y1="1844.4" x2="159.6" y2="1844.4" stroke="#000" stroke-width="3.1"/>
<line x1="729.3" y1="1844.4" x2="749" y2="1844.4" stroke="#000" stroke-width="3.1"/>
<line x1="148.9" y1="1851.42" x2="159.6" y2="1851.42" stroke="#000" stroke-width="3.1"/>
<line x1="729.3" y1="1851.42" x2="740" y2="1851.42" stroke="#000" stroke-width="3.1"/>
<line x1="148.9" y1="1858.44" x2="159.6" y2="1858.44" stroke="#000" stroke-width="3.1"/>
<line x1="729.3" y1="1858.44" x2="740" y2="1858.44" stroke="#000" stroke-width="3.1"/>
<line x1="148.9" y1="1865.46" x2="159.6" y2="1865.46" stroke="#000" stroke-width="3.1"/>
<line x1="729.3" y1="1865.46" x2="740" y2="1865.46" stroke="#000" stroke-width="3.1"/>
<line x1="148.9" y1="1872.48" x2="159.6" y2="1872.48" stroke="#000" stroke-width="3.1"/>
<line x1="729.3" y1="1872.48" x2="740" y2="1872.48" stroke="#000" stroke-width="3.1"/>
<line x1="144.6" y1="1879.5" x2="159.6" y2="1879.5" stroke="#000" stroke-width="3.1"/>
<line x1="729.3" y1="1879.5" x2="744.3" y2="1879.5" stroke="#000" stroke-width="3.1"/>
<line x1="148.9" y1="1886.52" x2="159.6" y2="1886.52" stroke="#000" stroke-width="3.1"/>
<line x1="729.3" y1="1886.52" x2="740" y2="1886.52" stroke="#000" stroke-width="3.1"/>
<line x1="148.9" y1="1893.54" x2="159.6" y2="1893.54" stroke="#000" stroke-width="3.1"/>
<line x1="729.3" y1="1893.54" x2="740" y2="1893.54" stroke="#000" stroke-width="3.1"/>
<line x1="148.9" y1="1900.56" x2="159.6" y2="1900.56" stroke="#000" stroke-width="3.1"/>
<line x1="729.3" y1="1900.56" x2="740" y2="1900.56" stroke="#000" stroke-width="3.1"/>
<line x1="148.9" y1="1907.58" x2="159.6" y2="1907.58" stroke="#000" stroke-width="3.1"/>
<line x1="729.3" y1="1907.58" x2="740" y2="1907.58" stroke="#000" stroke-width="3.1"/>
<line x1="139.6" y1="1914.6" x2="749" y2="1914.6" stroke="#000" stroke-width="3.1"/>
<line x1="159.6" y1="1914.6" x2="159.6" y2="1934.2" stroke="#000" stroke-width="3.1"/>
<line x1="195.21" y1="1914.6" x2="195.21" y2="1925.1" stroke="#000" stroke-width="3.1"/>
<line x1="230.81" y1="1914.6" x2="230.81" y2="1934.2" stroke="#000" stroke-width="3.1"/>
<line x1="266.42" y1="1914.6" x2="266.42" y2="1925.1" stroke="#000" stroke-width="3.1"/>
<line x1="302.02" y1="1914.6" x2="302.02" y2="1934.2" stroke="#000" stroke-width="3.1"/>
<line x1="337.63" y1="1914.6" x2="337.63" y2="1925.1" stroke="#000" stroke-width="3.1"/>
<line x1="373.24" y1="1914.6" x2="373.24" y2="1934.2" stroke="#000" stroke-width="3.1"/>
<line x1="408.84" y1="1914.6" x2="408.84" y2="1925.1" stroke="#000" stroke-width="3.1"/>
<line x1="444.45" y1="1914.6" x2="444.45" y2="1934.2" stroke="#000" stroke-width="3.1"/>
<line x1="480.06" y1="1914.6" x2="480.06" y2="1925.1" stroke="#000" stroke-width="3.1"/>
<line x1="515.66" y1="1914.6" x2="515.66" y2="1934.2" stroke="#000" stroke-width="3.1"/>
<line x1="551.27" y1="1914.6" x2="551.27" y2="1925.1" stroke="#000" stroke-width="3.1"/>
<line x1="586.88" y1="1914.6" x2="586.88" y2="1934.2" stroke="#000" stroke-width="3.1"/>
<line x1="622.48" y1="1914.6" x2="622.48" y2="1925.1" stroke="#000" stroke-width="3.1"/>
<line x1="658.09" y1="1914.6" x2="658.09" y2="1934.2" stroke="#000" stroke-width="3.1"/>
<line x1="693.69" y1="1914.6" x2="693.69" y2="1925.1" stroke="#000" stroke-width="3.1"/>
<line x1="729.3" y1="1914.6" x2="729.3" y2="1934.2" stroke="#000" stroke-width="3.1"/>
<text x="128.1" y="1452.8" font-size="29.5" text-anchor="end" class="nk">–1.2</text>
<text x="128.1" y="1535.2" font-size="29.5" text-anchor="end" class="nk">–1.1</text>
<text x="128.1" y="1617.6" font-size="29.5" text-anchor="end" class="nk">–1.0</text>
<text x="128.1" y="1700" font-size="29.5" text-anchor="end" class="nk">–0.9</text>
<text x="128.1" y="1782.4" font-size="29.5" text-anchor="end" class="nk">–0.8</text>
<text x="128.1" y="1853.5" font-size="29.5" text-anchor="end" class="nk">–0.1</text>
<text x="128.1" y="1923.7" font-size="29.5" text-anchor="end" class="nk">0.0</text>
<text x="159.6" y="1968" font-size="29.5" text-anchor="middle" class="nk">0</text>
<text x="230.81" y="1968" font-size="29.5" text-anchor="middle" class="nk">2</text>
<text x="302.02" y="1968" font-size="29.5" text-anchor="middle" class="nk">4</text>
<text x="373.24" y="1968" font-size="29.5" text-anchor="middle" class="nk">6</text>
<text x="444.45" y="1968" font-size="29.5" text-anchor="middle" class="nk">8</text>
<text x="515.66" y="1968" font-size="29.5" text-anchor="middle" class="nk">10</text>
<text x="586.88" y="1968" font-size="29.5" text-anchor="middle" class="nk">12</text>
<text x="658.09" y="1968" font-size="29.5" text-anchor="middle" class="nk">14</text>
<text x="729.3" y="1968" font-size="29.5" text-anchor="middle" class="nk">16</text>
<text transform="translate(444.2 2009.5) scale(0.9479 1)" font-size="30.75" text-anchor="middle">Time (days)</text>
<text transform="translate(43.6 1827.3) rotate(-90) scale(0.9479 1)" font-size="30.91" text-anchor="start">Voltage (V vs Ag/AgCl)</text>
<text transform="translate(2.6 1435) scale(0.9302 1)" font-size="44.61" text-anchor="start" font-weight="bold">c</text>
</svg></body></html>
